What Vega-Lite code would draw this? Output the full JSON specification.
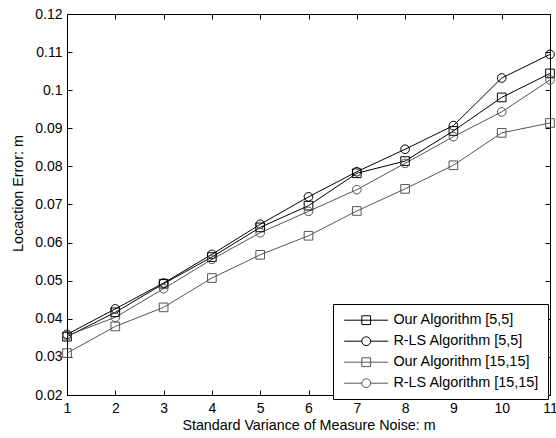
{
  "$schema": "https://vega.github.io/schema/vega-lite/v6.json",
  "width": 483,
  "height": 381,
  "autosize": {"type": "none"},
  "padding": {"left": 67, "top": 14, "right": 6, "bottom": 43},
  "background": "white",
  "config": {
    "font": "Liberation Sans",
    "view": {"stroke": "black", "strokeWidth": 1},
    "axis": {
      "grid": false,
      "domainColor": "black",
      "tickColor": "black",
      "tickSize": -5,
      "labelFont": "Liberation Sans",
      "labelFontSize": 14,
      "labelColor": "black",
      "titleFont": "Liberation Sans",
      "titleFontSize": 14.3,
      "titleFontWeight": "normal",
      "titleColor": "black",
      "labelFlush": false,
      "labelOverlap": false
    }
  },
  "resolve": {"axis": {"x": "independent", "y": "independent"}},
  "data": {"values": [
    {"x": 1, "y": 0.0353, "series": "Our Algorithm [5,5]"},
    {"x": 2, "y": 0.0417, "series": "Our Algorithm [5,5]"},
    {"x": 3, "y": 0.0492, "series": "Our Algorithm [5,5]"},
    {"x": 4, "y": 0.0562, "series": "Our Algorithm [5,5]"},
    {"x": 5, "y": 0.0640, "series": "Our Algorithm [5,5]"},
    {"x": 6, "y": 0.0697, "series": "Our Algorithm [5,5]"},
    {"x": 7, "y": 0.0782, "series": "Our Algorithm [5,5]"},
    {"x": 8, "y": 0.0814, "series": "Our Algorithm [5,5]"},
    {"x": 9, "y": 0.0893, "series": "Our Algorithm [5,5]"},
    {"x": 10, "y": 0.0981, "series": "Our Algorithm [5,5]"},
    {"x": 11, "y": 0.1044, "series": "Our Algorithm [5,5]"},
    {"x": 1, "y": 0.0359, "series": "R-LS Algorithm [5,5]"},
    {"x": 2, "y": 0.0426, "series": "R-LS Algorithm [5,5]"},
    {"x": 3, "y": 0.0494, "series": "R-LS Algorithm [5,5]"},
    {"x": 4, "y": 0.0569, "series": "R-LS Algorithm [5,5]"},
    {"x": 5, "y": 0.0648, "series": "R-LS Algorithm [5,5]"},
    {"x": 6, "y": 0.0720, "series": "R-LS Algorithm [5,5]"},
    {"x": 7, "y": 0.0786, "series": "R-LS Algorithm [5,5]"},
    {"x": 8, "y": 0.0845, "series": "R-LS Algorithm [5,5]"},
    {"x": 9, "y": 0.0907, "series": "R-LS Algorithm [5,5]"},
    {"x": 10, "y": 0.1032, "series": "R-LS Algorithm [5,5]"},
    {"x": 11, "y": 0.1094, "series": "R-LS Algorithm [5,5]"},
    {"x": 1, "y": 0.0310, "series": "Our Algorithm [15,15]"},
    {"x": 2, "y": 0.0380, "series": "Our Algorithm [15,15]"},
    {"x": 3, "y": 0.0430, "series": "Our Algorithm [15,15]"},
    {"x": 4, "y": 0.0507, "series": "Our Algorithm [15,15]"},
    {"x": 5, "y": 0.0568, "series": "Our Algorithm [15,15]"},
    {"x": 6, "y": 0.0618, "series": "Our Algorithm [15,15]"},
    {"x": 7, "y": 0.0683, "series": "Our Algorithm [15,15]"},
    {"x": 8, "y": 0.0741, "series": "Our Algorithm [15,15]"},
    {"x": 9, "y": 0.0803, "series": "Our Algorithm [15,15]"},
    {"x": 10, "y": 0.0888, "series": "Our Algorithm [15,15]"},
    {"x": 11, "y": 0.0914, "series": "Our Algorithm [15,15]"},
    {"x": 1, "y": 0.0356, "series": "R-LS Algorithm [15,15]"},
    {"x": 2, "y": 0.0404, "series": "R-LS Algorithm [15,15]"},
    {"x": 3, "y": 0.0479, "series": "R-LS Algorithm [15,15]"},
    {"x": 4, "y": 0.0556, "series": "R-LS Algorithm [15,15]"},
    {"x": 5, "y": 0.0626, "series": "R-LS Algorithm [15,15]"},
    {"x": 6, "y": 0.0682, "series": "R-LS Algorithm [15,15]"},
    {"x": 7, "y": 0.0739, "series": "R-LS Algorithm [15,15]"},
    {"x": 8, "y": 0.0808, "series": "R-LS Algorithm [15,15]"},
    {"x": 9, "y": 0.0878, "series": "R-LS Algorithm [15,15]"},
    {"x": 10, "y": 0.0943, "series": "R-LS Algorithm [15,15]"},
    {"x": 11, "y": 0.1027, "series": "R-LS Algorithm [15,15]"}
  ]},
  "layer": [
    {
      "mark": {"type": "line", "strokeWidth": 1},
      "encoding": {
        "x": {
          "field": "x", "type": "quantitative",
          "scale": {"domain": [1, 11], "nice": false, "zero": false},
          "axis": {"values": [1,2,3,4,5,6,7,8,9,10,11], "format": "d", "title": "Standard Variance of Measure Noise: m", "labelPadding": 11, "titlePadding": 3}
        },
        "y": {
          "field": "y", "type": "quantitative",
          "scale": {"domain": [0.02, 0.12], "nice": false, "zero": false},
          "axis": {"values": [0.02,0.03,0.04,0.05,0.06,0.07,0.08,0.09,0.1,0.11,0.12], "format": ".2~f", "title": "Locaction Error: m", "labelPadding": 10, "titleX": -49, "titleY": 179, "titleAlign": "center", "titleBaseline": "middle", "titleAngle": -90}
        },
        "stroke": {"field": "series", "type": "nominal",
          "scale": {"domain": ["Our Algorithm [5,5]", "R-LS Algorithm [5,5]", "Our Algorithm [15,15]", "R-LS Algorithm [15,15]"],
                    "range": ["#000000", "#000000", "#555555", "#555555"]}}
      }
    },
    {
      "transform": [{"filter": {"field": "series", "oneOf": ["Our Algorithm [5,5]", "Our Algorithm [15,15]"]}}],
      "mark": {"type": "point", "shape": "square", "filled": false, "size": 75, "strokeWidth": 1, "opacity": 1},
      "encoding": {
        "x": {"field": "x", "type": "quantitative", "axis": null},
        "y": {"field": "y", "type": "quantitative", "axis": null},
        "stroke": {"field": "series", "type": "nominal"}
      }
    },
    {
      "transform": [{"filter": {"field": "series", "oneOf": ["R-LS Algorithm [5,5]", "R-LS Algorithm [15,15]"]}}],
      "mark": {"type": "point", "shape": "circle", "filled": false, "size": 75, "strokeWidth": 1, "opacity": 1},
      "encoding": {
        "x": {"field": "x", "type": "quantitative", "axis": null},
        "y": {"field": "y", "type": "quantitative", "axis": null},
        "stroke": {"field": "series", "type": "nominal"}
      }
    },
    {
      "mark": {"type": "point", "filled": false, "size": 0, "strokeWidth": 0},
      "encoding": {
        "x": {"field": "x", "type": "quantitative", "axis": null},
        "y": {"field": "y", "type": "quantitative", "axis": null},
        "stroke": {"field": "series", "type": "nominal",
          "legend": {"title": null, "orient": "none", "legendX": 266, "legendY": 290,
            "strokeColor": "black", "fillColor": "white", "padding": 9, "cornerRadius": 0,
            "symbolSize": 81, "symbolStrokeWidth": 1, "symbolOpacity": 1, "symbolFillColor": "transparent",
            "labelFont": "Liberation Sans", "labelFontSize": 14.4, "labelColor": "black",
            "labelOffset": 37, "rowPadding": 6, "labelLimit": 300}},
        "shape": {"field": "series", "type": "nominal",
          "scale": {"domain": ["Our Algorithm [5,5]", "R-LS Algorithm [5,5]", "Our Algorithm [15,15]", "R-LS Algorithm [15,15]"],
                    "range": ["M-1.11,0H8.67M2.8,-0.98H4.76V0.98H2.8Z", "M-1.11,0H2.8M4.76,0H8.67M4.76,0A0.98,0.98 0 1,1 2.8,0A0.98,0.98 0 1,1 4.76,0", "M-1.11,0H8.67M2.8,-0.98H4.76V0.98H2.8Z", "M-1.11,0H2.8M4.76,0H8.67M4.76,0A0.98,0.98 0 1,1 2.8,0A0.98,0.98 0 1,1 4.76,0"]},
          "legend": {"title": null, "orient": "none", "legendX": 266, "legendY": 290,
            "strokeColor": "black", "fillColor": "white", "padding": 9, "cornerRadius": 0,
            "symbolSize": 81, "symbolStrokeWidth": 1, "symbolOpacity": 1, "symbolFillColor": "transparent",
            "labelFont": "Liberation Sans", "labelFontSize": 14.4, "labelColor": "black",
            "labelOffset": 37, "rowPadding": 6, "labelLimit": 300}}
      }
    },
    {
      "mark": {"type": "point", "opacity": 0},
      "encoding": {
        "x": {"field": "x", "type": "quantitative", "axis": {"orient": "top", "labels": false, "title": null, "domain": false, "values": [1,2,3,4,5,6,7,8,9,10,11]}},
        "y": {"field": "y", "type": "quantitative", "axis": {"orient": "right", "labels": false, "title": null, "domain": false, "values": [0.02,0.03,0.04,0.05,0.06,0.07,0.08,0.09,0.1,0.11,0.12]}}
      }
    }
  ]
}
